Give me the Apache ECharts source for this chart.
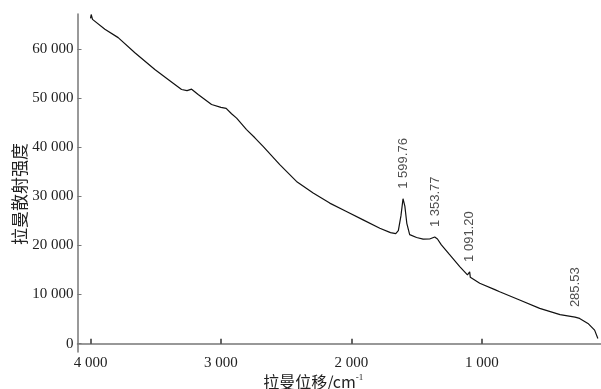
<!DOCTYPE html>
<html>
<head>
<meta charset="utf-8">
<script src="https://cdn.jsdelivr.net/npm/echarts@6/dist/echarts.min.js"></script>
<style>
  html, body { margin: 0; padding: 0; background: #fff; }
  #chart { width: 601px; height: 389px; }
</style>
</head>
<body>
<div id="chart"></div>
<script>
// 拉曼位移 (cm-1), 从高到低
const shift = [
  4000, 3995, 3985, 3890, 3788, 3660, 3507, 3405, 3302, 3260, 3225, 3175,
  3072, 3000, 2960, 2919, 2880, 2804, 2740, 2677, 2549, 2421, 2293, 2166,
  2038, 1910, 1782, 1700, 1660, 1640, 1620, 1604, 1590, 1575, 1553, 1500,
  1450, 1400, 1361, 1340, 1310, 1250, 1169, 1110, 1095, 1093, 1088, 1016,
  900, 863, 710, 556, 400, 285, 250, 186, 135, 110
]
// 拉曼散射强度
const intensity = [
  66200, 67000, 66000, 63980, 62290, 59220, 55820, 53780, 51730, 51500, 51800, 50710,
  48670, 48100, 47900, 46800, 45900, 43570, 41900, 40160, 36430, 33020, 30650, 28610,
  26900, 25200, 23500, 22600, 22400, 23000, 26000, 29500, 28000, 24500, 22200, 21600,
  21260, 21300, 21700, 21300, 20100, 18200, 15670, 14000, 13700, 14600, 13500, 12290,
  11000, 10570, 8880, 7180, 5900, 5400, 5140, 4120, 2755, 1060
]
// 峰位标注
const peakShift = [1599.76, 1353.77, 1091.20, 285.53]
const peakIntensity = [29500, 21700, 14600, 5400]
const peakText = ['1 599.76', '1 353.77', '1 091.20', '285.53']

const xTicks = [1000, 2000, 3000, 4000]
const yTicks = [0, 10000, 20000, 30000, 40000, 50000, 60000]

// 千位用空格分隔
function fmt(v) {
  return String(v).replace(/\B(?=(\d{3})+(?!\d))/g, ' ')
}

const myChart = echarts.init(document.getElementById('chart'))
const axisColor = '#777'
const serif = '"Liberation Serif", "DejaVu Serif", serif'
const cjk = '"Noto Sans CJK SC", sans-serif'

const option = {
  animation: false,
  grid: { left: 77.5, right: 0, top: 14, bottom: 37, outerBoundsMode: 'none', containLabel: false },
  xAxis: {
    type: 'value',
    inverse: true,
    min: 86,
    max: 4100,
    name: '拉曼位移/cm{sup|-1}',
    nameLocation: 'middle',
    nameGap: 21,
    nameMoveOverlap: false,
    nameTextStyle: {
      fontFamily: cjk,
      fontSize: 16,
      color: '#222',
      padding: [0, 52, 0, 0],
      rich: {
        sup: { fontSize: 9, verticalAlign: 'top', padding: [0, 0, 8, 0], fontFamily: serif, color: '#222' }
      }
    },
    axisLine: { lineStyle: { color: axisColor, width: 1.5 } },
    axisTick: { inside: true, length: 5, customValues: xTicks, lineStyle: { color: '#333', width: 1.5 } },
    axisLabel: {
      customValues: xTicks,
      margin: 4,
      fontFamily: serif,
      fontSize: 15,
      color: '#222',
      formatter: fmt
    },
    splitLine: { show: false }
  },
  yAxis: {
    type: 'value',
    min: -1700,
    max: 67100,
    name: '拉曼散射强度',
    nameLocation: 'middle',
    nameGap: 49,
    nameMoveOverlap: false,
    nameTextStyle: {
      fontFamily: cjk,
      fontSize: 17,
      color: '#222',
      padding: [0, 22, 0, 0]
    },
    axisLine: { show: true, lineStyle: { color: axisColor, width: 1.5 } },
    axisTick: { show: true, inside: true, length: 4, customValues: yTicks, lineStyle: { color: axisColor } },
    axisLabel: {
      customValues: yTicks,
      margin: 4,
      fontFamily: serif,
      fontSize: 15,
      color: '#222',
      formatter: fmt
    },
    splitLine: { show: false }
  },
  series: [
    {
      type: 'line',
      data: shift.map((x, i) => [x, intensity[i]]),
      symbol: 'none',
      lineStyle: { color: '#111', width: 1.2 }
    },
    {
      type: 'scatter',
      data: peakShift.map((x, i) => [x, peakIntensity[i]]),
      symbolSize: 0,
      label: {
        show: true,
        position: 'top',
        distance: 10,
        rotate: 90,
        align: 'left',
        verticalAlign: 'middle',
        fontFamily: '"Liberation Sans", Arial, sans-serif',
        fontSize: 13,
        color: '#222',
        formatter: (p) => peakText[p.dataIndex]
      }
    }
  ]
}

myChart.setOption(option)
</script>
</body>
</html>
